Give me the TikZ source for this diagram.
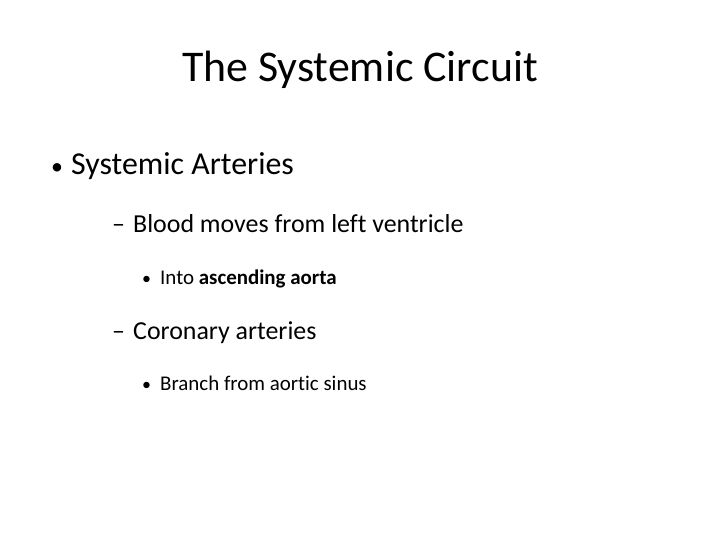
\documentclass[tikz,border=0pt]{standalone}
\usepackage{fontspec}
\setmainfont[Ligatures=NoCommon,Contextuals=NoAlternate]{Carlito}
\begin{document}
\begin{tikzpicture}[x=1bp,y=-1bp,
  t/.style={inner sep=0pt,anchor=base west}]
\useasboundingbox[fill=white] (0,0) rectangle (720,540);
\node[t,anchor=base] (title) at (360,82) {\fontsize{44}{52}\selectfont The Systemic Circuit};
\node[t] (b1) at (51,175) {\fontsize{24}{30}\selectfont •};
\node[t] (l1) at (71,175) {\fontsize{32}{38}\selectfont Systemic Arteries};
\node[t] (d2) at (112,233) {\fontsize{26}{31}\selectfont –};
\node[t] (l2) at (133,233) {\fontsize{26}{31}\selectfont Blood moves from left ventricle};
\node[t] (b3) at (142,285) {\fontsize{18}{22}\selectfont •};
\node[t] (l3) at (160,285) {\fontsize{21}{25}\selectfont Into \textbf{ascending aorta}};
\node[t] (d4) at (112,339) {\fontsize{26}{31}\selectfont –};
\node[t] (l4) at (133,339) {\fontsize{26}{31}\selectfont Coronary arteries};
\node[t] (b5) at (142,390) {\fontsize{18}{22}\selectfont •};
\node[t] (l5) at (160,390) {\fontsize{21}{25}\selectfont Branch from aortic sinus};
\end{tikzpicture}
\end{document}
